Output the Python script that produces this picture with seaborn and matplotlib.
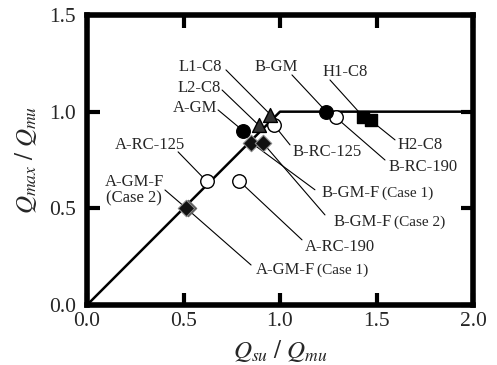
import matplotlib
matplotlib.use("Agg")
import matplotlib.pyplot as plt
import seaborn as sns
import pandas as pd

# Specimen results: shear strength ratio vs. maximum strength ratio
specimens = ["A-GM-F (Case 1)", "A-GM-F (Case 2)", "A-RC-125", "A-RC-190", "A-GM",
             "L2-C8", "L1-C8", "B-RC-125", "B-GM-F (Case 1)", "B-GM-F (Case 2)",
             "B-GM", "B-RC-190", "H1-C8", "H2-C8"]
qsu_qmu = [0.515, 0.525, 0.62, 0.79, 0.81, 0.89, 0.95, 0.97, 0.85, 0.91, 1.24, 1.29, 1.43, 1.47]
qmax_qmu = [0.50, 0.50, 0.64, 0.64, 0.90, 0.93, 0.985, 0.93, 0.84, 0.84, 1.00, 0.97, 0.975, 0.955]
kinds = ["diamondL", "diamondR", "open", "open", "filled", "tri", "tri", "open", "diamond",
         "diamond", "filled", "open", "square", "square"]

# Capacity line: Qmax/Qmu = min(Qsu/Qmu, 1)
line_x = [0.0, 1.0, 2.0]
line_y = [0.0, 1.0, 1.0]

# Label anchor (data coords), leader-line start, and the specimen it points to
labels = ["L1-C8", "L2-C8", "A-GM", "A-RC-125", "A-GM-F\n(Case 2)", "B-GM", "H1-C8",
          "H2-C8", "B-RC-190", "B-RC-125", "B-GM-F (Case 1)", "B-GM-F (Case 2)",
          "A-RC-190", "A-GM-F (Case 1)"]
label_x = [0.585, 0.583, 0.56, 0.326, 0.244, 0.979, 1.337, 1.725, 1.741, 1.244, 1.518, 1.580, 1.311, 1.181]
label_y = [1.231, 1.122, 1.019, 0.828, 0.595, 1.231, 1.205, 0.828, 0.714, 0.792, 0.580, 0.430, 0.300, 0.181]
start_x = [0.72, 0.70, 0.679, 0.472, 0.404, 1.062, 1.259, 1.596, 1.544, 1.052, 1.181, 1.233, 1.114, 0.85]
start_y = [1.216, 1.112, 1.009, 0.792, 0.595, 1.19, 1.164, 0.854, 0.75, 0.828, 0.596, 0.466, 0.337, 0.207]
target = [6, 5, 4, 2, 0, 10, 12, 13, 11, 7, 8, 9, 3, 0]

df = pd.DataFrame({"specimen": specimens, "x": qsu_qmu, "y": qmax_qmu, "kind": kinds})

sns.set_theme(style="ticks")
plt.rcParams["font.family"] = ["Liberation Serif", "DejaVu Serif"]
plt.rcParams["mathtext.fontset"] = "stix"

fig = plt.figure(figsize=(4.97, 3.65), dpi=100)
ax = fig.add_axes([87 / 497, 60 / 365, 386 / 497, 290 / 365])
ax.set_axisbelow(False)

sns.lineplot(x=line_x, y=line_y, ax=ax, color="black", linewidth=1.8, zorder=2)

# Leader lines from each label to its specimen
for sx, sy, t in zip(start_x, start_y, target):
    ax.plot([sx, df.x[t]], [sy, df.y[t]], color="black", linewidth=0.8, zorder=1)

styles = {
    "open": dict(marker="o", s=95, facecolor="white", edgecolor="black", linewidth=1.0),
    "filled": dict(marker="o", s=95, facecolor="black", edgecolor="black", linewidth=1.0),
    "tri": dict(marker="^", s=100, facecolor="#333333", edgecolor="black", linewidth=1.0),
    "diamond": dict(marker="D", s=70, facecolor="#111111", edgecolor="#888888", linewidth=0.8),
    "diamondR": dict(marker="D", s=70, facecolor="#333333", edgecolor="#666666", linewidth=0.8),
    "diamondL": dict(marker="D", s=70, facecolor="#111111", edgecolor="#888888", linewidth=0.8),
    "square": dict(marker="s", s=85, facecolor="black", edgecolor="black", linewidth=1.0),
}
order = ["open", "filled", "tri", "diamondR", "diamondL", "diamond", "square"]
for k in order:
    sub = df[df.kind == k]
    sns.scatterplot(x=sub.x.tolist(), y=sub.y.tolist(), ax=ax, zorder=3, legend=False, **styles[k])

# Labels
for lab, tx, ty in zip(labels, label_x, label_y):
    if "(Case" in lab and "\n" not in lab:
        name, case = lab.split(" ", 1)
        ax.text(tx, ty, name, ha="right", va="center", fontsize=12)
        ax.text(tx + 0.01, ty, case, ha="left", va="center", fontsize=11)
    elif "\n" in lab:
        ax.text(tx, ty, lab, ha="center", va="center", fontsize=12, linespacing=1.0)
    else:
        ax.text(tx, ty, lab, ha="center", va="center", fontsize=12)

ax.set_xlim(0, 2.0)
ax.set_ylim(0, 1.5)
ax.set_xticks([0.0, 0.5, 1.0, 1.5, 2.0])
ax.set_yticks([0.0, 0.5, 1.0, 1.5])
ax.set_xticklabels(["0.0", "0.5", "1.0", "1.5", "2.0"])
ax.set_yticklabels(["0.0", "0.5", "1.0", "1.5"])
ax.tick_params(which="major", direction="in", length=9, width=3, labelsize=15.5,
               top=True, right=True, bottom=True, left=True, color="black")
ax.tick_params(axis="x", pad=5)
ax.tick_params(axis="y", pad=8)
for sp in ax.spines.values():
    sp.set_linewidth(4)
    sp.set_color("black")

ax.set_xlabel(r"$Q_{su}\ /\ Q_{mu}$", fontsize=18, labelpad=5)
ax.set_ylabel(r"$Q_{max}\ /\ Q_{mu}$", fontsize=18, labelpad=7)

fig.savefig("out.png", dpi=100)
